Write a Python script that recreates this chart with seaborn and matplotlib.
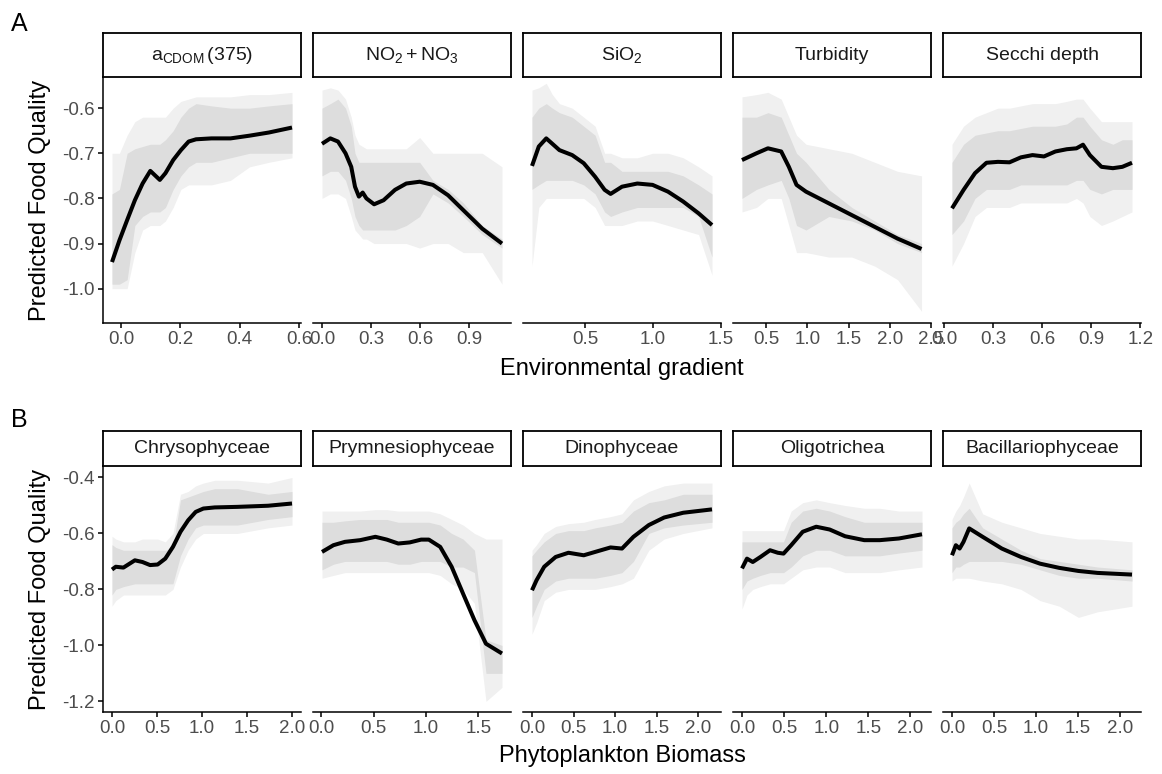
import numpy as np
import pandas as pd
import matplotlib
matplotlib.use("Agg")
import matplotlib.pyplot as plt
import seaborn as sns

# ---------------- Data ----------------
# Panel A: environmental gradients
acdom_x   = [-0.03, -0.005, 0.021, 0.047, 0.073, 0.099, 0.131, 0.150, 0.176, 0.202, 0.228, 0.253, 0.305, 0.369, 0.433, 0.498, 0.576]
acdom_fit = [-0.941, -0.893, -0.848, -0.804, -0.767, -0.739, -0.759, -0.744, -0.715, -0.693, -0.674, -0.669, -0.667, -0.667, -0.661, -0.654, -0.643]
acdom_hi  = [-0.79, -0.78, -0.70, -0.69, -0.685, -0.68, -0.68, -0.67, -0.65, -0.62, -0.60, -0.59, -0.595, -0.60, -0.60, -0.595, -0.59]
acdom_lo  = [-0.99, -0.99, -0.98, -0.86, -0.84, -0.83, -0.83, -0.82, -0.78, -0.75, -0.73, -0.72, -0.72, -0.71, -0.70, -0.70, -0.70]
acdom_max = [-0.70, -0.70, -0.66, -0.63, -0.62, -0.62, -0.62, -0.62, -0.60, -0.585, -0.58, -0.575, -0.575, -0.575, -0.57, -0.57, -0.565]
acdom_min = [-1.0, -1.0, -1.0, -0.92, -0.87, -0.86, -0.86, -0.85, -0.82, -0.78, -0.77, -0.77, -0.77, -0.76, -0.73, -0.72, -0.71]

no3_x   = [0.0, 0.051, 0.098, 0.144, 0.179, 0.202, 0.226, 0.249, 0.272, 0.319, 0.377, 0.447, 0.516, 0.598, 0.679, 0.772, 0.865, 0.981, 1.102]
no3_fit = [-0.679, -0.667, -0.674, -0.700, -0.730, -0.774, -0.796, -0.787, -0.800, -0.813, -0.804, -0.781, -0.767, -0.763, -0.770, -0.793, -0.826, -0.867, -0.900]
no3_hi  = [-0.60, -0.59, -0.58, -0.60, -0.64, -0.70, -0.72, -0.72, -0.72, -0.72, -0.72, -0.72, -0.72, -0.72, -0.76, -0.78, -0.81, -0.86, -0.89]
no3_lo  = [-0.75, -0.74, -0.74, -0.76, -0.80, -0.84, -0.86, -0.87, -0.87, -0.87, -0.87, -0.87, -0.86, -0.84, -0.79, -0.81, -0.84, -0.88, -0.91]
no3_max = [-0.56, -0.555, -0.56, -0.58, -0.62, -0.66, -0.68, -0.685, -0.69, -0.69, -0.69, -0.69, -0.69, -0.665, -0.70, -0.70, -0.70, -0.70, -0.73]
no3_min = [-0.80, -0.79, -0.79, -0.80, -0.84, -0.87, -0.88, -0.89, -0.89, -0.90, -0.90, -0.90, -0.90, -0.91, -0.90, -0.90, -0.92, -0.92, -0.99]

sio2_x   = [0.11, 0.16, 0.215, 0.26, 0.312, 0.406, 0.491, 0.575, 0.645, 0.689, 0.773, 0.886, 0.998, 1.112, 1.224, 1.337, 1.436]
sio2_fit = [-0.728, -0.685, -0.667, -0.679, -0.693, -0.704, -0.722, -0.752, -0.781, -0.790, -0.774, -0.767, -0.770, -0.785, -0.807, -0.833, -0.859]
sio2_hi  = [-0.62, -0.60, -0.59, -0.60, -0.61, -0.62, -0.64, -0.66, -0.72, -0.72, -0.74, -0.74, -0.74, -0.74, -0.75, -0.77, -0.79]
sio2_lo  = [-0.78, -0.77, -0.76, -0.76, -0.76, -0.76, -0.77, -0.79, -0.83, -0.84, -0.83, -0.82, -0.82, -0.82, -0.82, -0.84, -0.93]
sio2_max = [-0.56, -0.555, -0.545, -0.57, -0.59, -0.60, -0.62, -0.64, -0.70, -0.70, -0.71, -0.71, -0.70, -0.70, -0.71, -0.73, -0.75]
sio2_min = [-0.95, -0.82, -0.80, -0.80, -0.80, -0.80, -0.80, -0.82, -0.86, -0.86, -0.86, -0.85, -0.85, -0.86, -0.87, -0.88, -0.97]

turb_x   = [0.206, 0.382, 0.521, 0.682, 0.775, 0.868, 0.983, 1.261, 1.539, 1.817, 2.094, 2.385]
turb_fit = [-0.715, -0.700, -0.689, -0.696, -0.730, -0.770, -0.785, -0.811, -0.837, -0.863, -0.889, -0.912]
turb_hi  = [-0.62, -0.62, -0.61, -0.62, -0.66, -0.70, -0.72, -0.78, -0.82, -0.85, -0.88, -0.90]
turb_lo  = [-0.80, -0.78, -0.77, -0.76, -0.80, -0.86, -0.87, -0.84, -0.85, -0.87, -0.90, -0.92]
turb_max = [-0.575, -0.57, -0.565, -0.58, -0.62, -0.66, -0.68, -0.69, -0.70, -0.72, -0.74, -0.75]
turb_min = [-0.83, -0.82, -0.80, -0.80, -0.86, -0.92, -0.92, -0.93, -0.93, -0.95, -0.98, -1.05]

secchi_x   = [0.046, 0.117, 0.187, 0.257, 0.327, 0.398, 0.468, 0.539, 0.609, 0.679, 0.749, 0.808, 0.848, 0.89, 0.961, 1.031, 1.089, 1.148]
secchi_fit = [-0.822, -0.781, -0.744, -0.721, -0.719, -0.720, -0.709, -0.704, -0.707, -0.696, -0.691, -0.689, -0.681, -0.704, -0.730, -0.733, -0.730, -0.721]
secchi_hi  = [-0.72, -0.68, -0.66, -0.655, -0.65, -0.65, -0.645, -0.64, -0.64, -0.64, -0.635, -0.62, -0.62, -0.64, -0.67, -0.68, -0.67, -0.67]
secchi_lo  = [-0.88, -0.85, -0.80, -0.78, -0.78, -0.78, -0.77, -0.77, -0.77, -0.77, -0.77, -0.76, -0.76, -0.78, -0.79, -0.78, -0.78, -0.78]
secchi_max = [-0.68, -0.64, -0.62, -0.61, -0.60, -0.60, -0.595, -0.59, -0.59, -0.59, -0.585, -0.58, -0.58, -0.60, -0.63, -0.63, -0.63, -0.63]
secchi_min = [-0.95, -0.90, -0.84, -0.82, -0.82, -0.82, -0.81, -0.81, -0.81, -0.81, -0.81, -0.80, -0.81, -0.84, -0.86, -0.85, -0.84, -0.83]

# Panel B: phytoplankton biomass
chrys_x   = [0.0, 0.042, 0.127, 0.254, 0.338, 0.423, 0.507, 0.592, 0.677, 0.761, 0.846, 0.93, 1.015, 1.142, 1.395, 1.734, 2.0]
chrys_fit = [-0.729, -0.719, -0.722, -0.696, -0.702, -0.713, -0.711, -0.690, -0.648, -0.594, -0.553, -0.523, -0.511, -0.507, -0.505, -0.501, -0.493]
chrys_hi  = [-0.64, -0.65, -0.66, -0.66, -0.66, -0.66, -0.66, -0.66, -0.65, -0.48, -0.47, -0.46, -0.45, -0.44, -0.44, -0.46, -0.45]
chrys_lo  = [-0.82, -0.80, -0.79, -0.78, -0.78, -0.78, -0.78, -0.78, -0.78, -0.68, -0.62, -0.58, -0.57, -0.57, -0.57, -0.55, -0.54]
chrys_max = [-0.61, -0.62, -0.63, -0.63, -0.62, -0.62, -0.62, -0.63, -0.60, -0.46, -0.45, -0.43, -0.42, -0.41, -0.41, -0.42, -0.40]
chrys_min = [-0.86, -0.84, -0.82, -0.82, -0.82, -0.82, -0.82, -0.82, -0.80, -0.72, -0.66, -0.62, -0.60, -0.60, -0.60, -0.58, -0.57]

prym_x   = [0.007, 0.116, 0.226, 0.371, 0.517, 0.626, 0.735, 0.845, 0.954, 1.027, 1.136, 1.245, 1.354, 1.463, 1.573, 1.726]
prym_fit = [-0.666, -0.642, -0.630, -0.624, -0.612, -0.622, -0.636, -0.632, -0.622, -0.622, -0.648, -0.719, -0.815, -0.910, -0.994, -1.029]
prym_hi  = [-0.56, -0.56, -0.555, -0.55, -0.55, -0.55, -0.56, -0.56, -0.56, -0.56, -0.57, -0.60, -0.62, -0.66, -0.98, -1.00]
prym_lo  = [-0.73, -0.71, -0.70, -0.70, -0.70, -0.70, -0.71, -0.71, -0.70, -0.70, -0.70, -0.72, -0.72, -0.74, -1.10, -1.10]
prym_max = [-0.52, -0.52, -0.52, -0.52, -0.515, -0.515, -0.52, -0.52, -0.52, -0.52, -0.53, -0.55, -0.57, -0.60, -0.62, -0.62]
prym_min = [-0.76, -0.75, -0.74, -0.74, -0.74, -0.74, -0.74, -0.74, -0.74, -0.74, -0.75, -0.78, -0.80, -0.85, -1.20, -1.15]

dino_x   = [0.0, 0.055, 0.147, 0.285, 0.439, 0.623, 0.761, 0.946, 1.084, 1.222, 1.407, 1.592, 1.822, 2.168]
dino_fit = [-0.803, -0.767, -0.719, -0.684, -0.669, -0.678, -0.666, -0.650, -0.654, -0.612, -0.570, -0.543, -0.526, -0.514]
dino_hi  = [-0.68, -0.66, -0.63, -0.60, -0.59, -0.59, -0.58, -0.57, -0.56, -0.52, -0.49, -0.48, -0.46, -0.46]
dino_lo  = [-0.90, -0.86, -0.80, -0.77, -0.76, -0.76, -0.76, -0.75, -0.74, -0.70, -0.60, -0.58, -0.57, -0.56]
dino_max = [-0.66, -0.64, -0.60, -0.575, -0.565, -0.56, -0.55, -0.54, -0.53, -0.48, -0.45, -0.43, -0.42, -0.42]
dino_min = [-0.96, -0.92, -0.84, -0.81, -0.80, -0.80, -0.80, -0.79, -0.78, -0.76, -0.66, -0.62, -0.60, -0.58]

oligo_x   = [0.0, 0.059, 0.128, 0.219, 0.333, 0.425, 0.493, 0.584, 0.721, 0.881, 1.041, 1.224, 1.452, 1.635, 1.863, 2.137]
oligo_fit = [-0.725, -0.690, -0.702, -0.684, -0.660, -0.669, -0.672, -0.642, -0.594, -0.576, -0.586, -0.610, -0.624, -0.624, -0.618, -0.603]
oligo_hi  = [-0.63, -0.63, -0.63, -0.63, -0.63, -0.63, -0.63, -0.56, -0.52, -0.51, -0.52, -0.54, -0.56, -0.56, -0.56, -0.56]
oligo_lo  = [-0.80, -0.77, -0.76, -0.75, -0.74, -0.74, -0.74, -0.72, -0.68, -0.66, -0.66, -0.68, -0.68, -0.68, -0.67, -0.66]
oligo_max = [-0.59, -0.59, -0.59, -0.59, -0.59, -0.59, -0.59, -0.52, -0.49, -0.48, -0.49, -0.50, -0.51, -0.51, -0.52, -0.52]
oligo_min = [-0.87, -0.82, -0.80, -0.79, -0.78, -0.78, -0.78, -0.76, -0.73, -0.72, -0.72, -0.74, -0.74, -0.74, -0.73, -0.72]

bacil_x   = [0.0, 0.046, 0.091, 0.137, 0.205, 0.365, 0.594, 0.822, 1.05, 1.279, 1.507, 1.735, 2.146]
bacil_fit = [-0.678, -0.642, -0.654, -0.630, -0.582, -0.612, -0.654, -0.684, -0.708, -0.723, -0.734, -0.741, -0.747]
bacil_hi  = [-0.58, -0.56, -0.55, -0.53, -0.51, -0.58, -0.62, -0.66, -0.69, -0.70, -0.71, -0.72, -0.73]
bacil_lo  = [-0.74, -0.72, -0.72, -0.71, -0.70, -0.70, -0.70, -0.71, -0.73, -0.75, -0.76, -0.76, -0.77]
bacil_max = [-0.55, -0.52, -0.50, -0.47, -0.42, -0.53, -0.56, -0.58, -0.60, -0.61, -0.62, -0.62, -0.63]
bacil_min = [-0.77, -0.76, -0.76, -0.76, -0.76, -0.77, -0.78, -0.80, -0.84, -0.86, -0.90, -0.88, -0.86]

top_labels = [r"$\mathrm{a_{CDOM}\,(375)}$", r"$\mathrm{NO_2 + NO_3}$", r"$\mathrm{SiO_2}$", "Turbidity", "Secchi depth"]
bottom_labels = ["Chrysophyceae", "Prymnesiophyceae", "Dinophyceae", "Oligotrichea", "Bacillariophyceae"]
top_xticks = [[0.0, 0.2, 0.4, 0.6], [0.0, 0.3, 0.6, 0.9], [0.5, 1.0, 1.5], [0.5, 1.0, 1.5, 2.0, 2.5], [0.0, 0.3, 0.6, 0.9, 1.2]]
bottom_xticks = [[0.0, 0.5, 1.0, 1.5, 2.0], [0.0, 0.5, 1.0, 1.5], [0.0, 0.5, 1.0, 1.5, 2.0], [0.0, 0.5, 1.0, 1.5, 2.0], [0.0, 0.5, 1.0, 1.5, 2.0]]
top_yticks = [-1.0, -0.9, -0.8, -0.7, -0.6]
bottom_yticks = [-1.2, -1.0, -0.8, -0.6, -0.4]
top_ylim = (-1.076, -0.531)
bottom_ylim = (-1.238, -0.359)

top_series = [
    (acdom_x, acdom_fit, acdom_lo, acdom_hi, acdom_min, acdom_max),
    (no3_x, no3_fit, no3_lo, no3_hi, no3_min, no3_max),
    (sio2_x, sio2_fit, sio2_lo, sio2_hi, sio2_min, sio2_max),
    (turb_x, turb_fit, turb_lo, turb_hi, turb_min, turb_max),
    (secchi_x, secchi_fit, secchi_lo, secchi_hi, secchi_min, secchi_max),
]
bottom_series = [
    (chrys_x, chrys_fit, chrys_lo, chrys_hi, chrys_min, chrys_max),
    (prym_x, prym_fit, prym_lo, prym_hi, prym_min, prym_max),
    (dino_x, dino_fit, dino_lo, dino_hi, dino_min, dino_max),
    (oligo_x, oligo_fit, oligo_lo, oligo_hi, oligo_min, oligo_max),
    (bacil_x, bacil_fit, bacil_lo, bacil_hi, bacil_min, bacil_max),
]

# ---------------- Style ----------------
sns.set_theme(style="ticks")
plt.rcParams.update({
    "font.family": ["Liberation Sans", "DejaVu Sans"],
    "axes.unicode_minus": False,
    "mathtext.fontset": "custom",
    "mathtext.rm": "Liberation Sans",
    "mathtext.it": "Liberation Sans:italic",
    "mathtext.bf": "Liberation Sans:bold",
})

W, H = 1162, 774
fig = plt.figure(figsize=(W / 100, H / 100), dpi=100)
fig.patch.set_facecolor("white")


def rect(x0, y0, x1, y1):
    return [x0 / W, 1 - y1 / H, (x1 - x0) / W, (y1 - y0) / H]


panel_left = [103, 313, 523, 733, 943]
panel_w = 198
tick_color = "#4D4D4D"
tick_size = 13.5


def draw_row(series, labels, xticks_list, yticks, ylim, y_top, y_bot, s_top, xlabel, xlabel_y, letter, letter_y):
    for i, (x, fit, lo, hi, mn, mx) in enumerate(series):
        x0 = panel_left[i]
        ax = fig.add_axes(rect(x0, y_top, x0 + panel_w, y_bot))
        ax.set_facecolor("white")
        ax.fill_between(x, mn, mx, color="#F0F0F0", lw=0, zorder=1)
        ax.fill_between(x, lo, hi, color="#DDDDDD", lw=0, zorder=2)
        df = pd.DataFrame({"x": x, "y": fit})
        sns.lineplot(data=df, x="x", y="y", ax=ax, color="black", lw=2.9,
                     sort=False, estimator=None, zorder=3)
        ax.lines[-1].set_solid_capstyle("butt")
        ax.lines[-1].set_solid_joinstyle("round")
        xmin, xmax = min(x), max(x)
        pad = 0.05 * (xmax - xmin)
        ax.set_xlim(xmin - pad, xmax + pad)
        ax.set_ylim(*ylim)
        xt = xticks_list[i]
        ax.set_xticks(xt)
        ax.set_xticklabels([f"{t:.1f}" for t in xt])
        ax.set_xlabel("")
        ax.set_ylabel("")
        for s in ["top", "right"]:
            ax.spines[s].set_visible(False)
        ax.spines["bottom"].set_linewidth(1.1)
        ax.spines["bottom"].set_color("black")
        ax.tick_params(axis="x", length=3.5, width=1.1, color="black",
                       labelsize=tick_size, labelcolor=tick_color, pad=2.5)
        if i == 0:
            ax.spines["left"].set_linewidth(1.1)
            ax.spines["left"].set_color("black")
            ax.set_yticks(yticks)
            ax.set_yticklabels([f"{t:.1f}" for t in yticks])
            ax.tick_params(axis="y", length=3.5, width=1.1, color="black",
                           labelsize=tick_size, labelcolor=tick_color, pad=2.5)
        else:
            ax.spines["left"].set_visible(False)
            ax.set_yticks([])
        ax.grid(False)
        # strip
        sax = fig.add_axes(rect(x0, s_top, x0 + panel_w, y_top))
        sax.set_xticks([])
        sax.set_yticks([])
        sax.set_facecolor("white")
        for s in sax.spines.values():
            s.set_visible(True)
            s.set_color("black")
            s.set_linewidth(1.3)
        sax.text(0.5, 0.5, labels[i], ha="center", va="center",
                 fontsize=14, color="#1A1A1A", transform=sax.transAxes)
    fig.text((panel_left[0] + panel_left[-1] + panel_w) / 2 / W, 1 - xlabel_y / H, xlabel,
             ha="center", va="baseline", fontsize=17, color="black")
    fig.text(40 / W, 1 - (y_top + y_bot) / 2 / H, "Predicted Food Quality",
             rotation=90, ha="center", va="center", fontsize=17, color="black")
    fig.text(11 / W, 1 - letter_y / H, letter, ha="left", va="baseline",
             fontsize=18, color="black")


draw_row(top_series, top_labels, top_xticks, top_yticks, top_ylim,
         77, 323, 33, "Environmental gradient", 375, "A", 31)
draw_row(bottom_series, bottom_labels, bottom_xticks, bottom_yticks, bottom_ylim,
         466, 712, 431, "Phytoplankton Biomass", 762, "B", 427)

fig.savefig("out.png", dpi=100, facecolor="white")
